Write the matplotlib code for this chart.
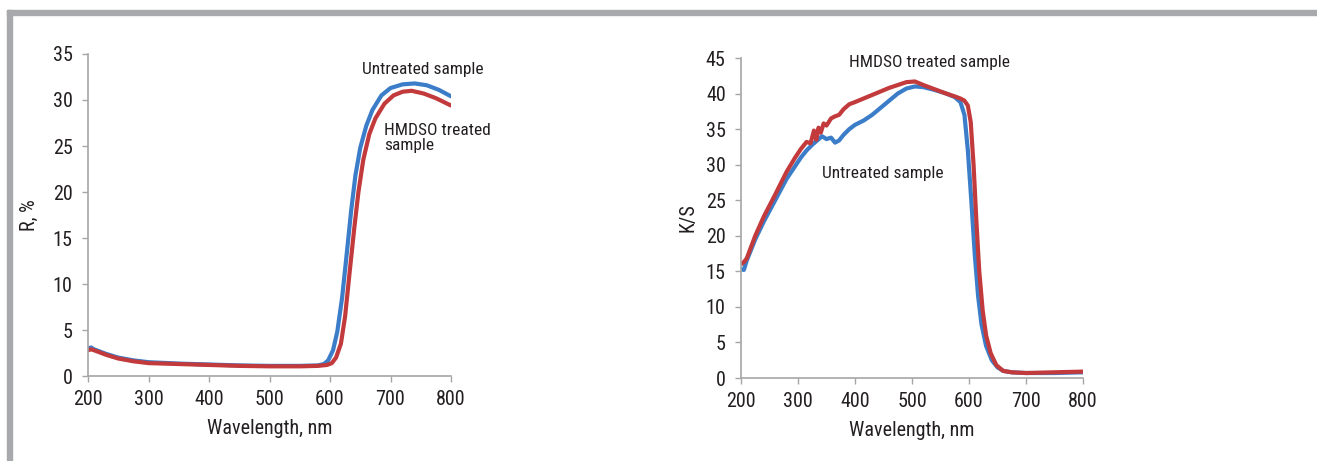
import matplotlib.pyplot as plt
from matplotlib.patches import Rectangle

plt.rcParams['font.family'] = ['Roboto Condensed', 'Liberation Sans', 'DejaVu Sans']

# reflectance, left panel
wl_r_untr = [200, 205, 210, 230, 250, 275, 300, 350, 400, 450, 500, 550, 580, 590,
             597, 605, 612, 620, 628, 635, 642, 650, 660, 670, 685, 700, 720, 740,
             760, 780, 800]
r_untr = [3.0, 3.1, 2.9, 2.4, 2.0, 1.7, 1.5, 1.35, 1.25, 1.15, 1.1, 1.1, 1.15, 1.3,
          1.7, 2.8, 4.8, 8.5, 13.5, 18.0, 21.8, 24.8, 27.2, 28.9, 30.5, 31.3, 31.7, 31.8,
          31.6, 31.1, 30.4]

wl_r_hmdso = [200, 205, 210, 230, 250, 275, 300, 350, 400, 450, 500, 550, 580, 595,
              603, 610, 618, 625, 632, 640, 647, 655, 665, 675, 690, 705, 720, 735,
              755, 775, 800]
r_hmdso = [2.8, 2.9, 2.8, 2.3, 1.9, 1.6, 1.4, 1.3, 1.2, 1.1, 1.05, 1.05, 1.1, 1.2,
           1.4, 2.0, 3.5, 6.5, 11.0, 16.0, 20.0, 23.5, 26.3, 28.0, 29.6, 30.5, 30.9, 31.0,
           30.7, 30.2, 29.4]

# K/S, right panel
wl_ks_untr = [200, 205, 210, 225, 240, 260, 280, 295, 305, 315, 325, 335, 342, 350,
              358, 365, 372, 380, 390, 400, 415, 430, 445, 460, 475, 490, 505, 520,
              540, 560, 575, 585, 592, 598, 604, 610, 616, 622, 630, 640, 650, 660,
              675, 700, 750, 800]
ks_untr = [15.3, 15.2, 16.5, 19.5, 22.0, 25.0, 28.0, 29.8, 31.0, 32.0, 32.8, 33.5, 34.0, 33.6,
           33.8, 33.1, 33.4, 34.2, 35.0, 35.6, 36.2, 37.0, 38.0, 39.0, 40.0, 40.7, 41.0, 40.9,
           40.5, 40.0, 39.5, 38.8, 37.0, 32.0, 25.0, 17.5, 11.5, 7.5, 4.5, 2.5, 1.5, 1.0,
           0.8, 0.7, 0.7, 0.8]

wl_ks_hmdso = [200, 205, 210, 225, 240, 260, 280, 295, 305, 315, 322, 328, 332, 336,
               340, 345, 350, 358, 365, 372, 380, 390, 400, 415, 430, 445, 460, 475,
               490, 505, 520, 540, 560, 575, 585, 592, 598, 603, 608, 613, 618, 624,
               630, 638, 648, 660, 675, 700, 750, 800]
ks_hmdso = [16.0, 16.3, 16.8, 20.0, 22.7, 25.8, 29.0, 31.0, 32.2, 33.2, 33.0, 34.8, 33.5, 35.2,
            34.5, 35.8, 35.5, 36.5, 36.8, 37.0, 37.8, 38.5, 38.8, 39.3, 39.8, 40.3, 40.8, 41.2,
            41.6, 41.7, 41.2, 40.6, 40.0, 39.6, 39.3, 39.0, 38.3, 36.0, 30.0, 22.0, 15.0, 9.5,
            6.0, 3.5, 1.8, 1.0, 0.8, 0.7, 0.8, 0.9]

x_ticks = [200, 300, 400, 500, 600, 700, 800]

blue = '#3b7dc8'
red = '#c23a3c'
axis_gray = '#a6a6a6'
text_col = '#231f20'

fig = plt.figure(figsize=(13.17, 4.61), dpi=100)

# grey frame on top and left edges
fig.patches.append(Rectangle((7 / 1317, 1 - 15 / 461), 1, 5 / 461,
                             transform=fig.transFigure, color='#a7a9ac', zorder=0))
fig.patches.append(Rectangle((7 / 1317, 0), 5 / 1317, 1 - 10 / 461,
                             transform=fig.transFigure, color='#a7a9ac', zorder=0))

ax1 = fig.add_axes([88 / 1317, 1 - 376 / 461, 363 / 1317, 322 / 461])
ax2 = fig.add_axes([741 / 1317, 1 - 378 / 461, 342 / 1317, 320 / 461])

ax1.plot(wl_r_untr, r_untr, color=blue, lw=3, solid_capstyle='round')
ax1.plot(wl_r_hmdso, r_hmdso, color=red, lw=3, solid_capstyle='round')
ax1.set_ylim(0, 35)
ax1.set_yticks(range(0, 36, 5))
ax1.set_ylabel('R, %', fontsize=14.5, color=text_col, labelpad=10)
ax1.text(653, 33.3, 'Untreated sample', fontsize=12.5, color=text_col, va='center')
ax1.text(689, 25.9, 'HMDSO treated\nsample', fontsize=12.5, color=text_col,
         va='center', linespacing=1.0)

ax2.plot(wl_ks_untr, ks_untr, color=blue, lw=3, solid_capstyle='round')
ax2.plot(wl_ks_hmdso, ks_hmdso, color=red, lw=3, solid_capstyle='round')
ax2.set_ylim(0, 45)
ax2.set_yticks(range(0, 46, 5))
ax2.set_ylabel('K/S', fontsize=14.5, color=text_col, labelpad=6)
ax2.text(389, 44.3, 'HMDSO treated sample', fontsize=12.5, color=text_col, va='center')
ax2.text(342, 28.7, 'Untreated sample', fontsize=12.5, color=text_col, va='center')

for ax in (ax1, ax2):
    ax.set_xlim(200, 800)
    ax.set_xticks(x_ticks)
    ax.set_xlabel('Wavelength, nm', fontsize=14.5, color=text_col, labelpad=7)
    for s in ('top', 'right'):
        ax.spines[s].set_visible(False)
    for s in ('left', 'bottom'):
        ax.spines[s].set_color(axis_gray)
        ax.spines[s].set_linewidth(1.2)
    ax.tick_params(axis='both', colors=axis_gray, labelcolor=text_col,
                   labelsize=14.5, length=4, width=1.0)
    ax.tick_params(axis='y', pad=7)
    ax.tick_params(axis='x', pad=6)
    ax.patch.set_alpha(0)

fig.savefig('out.png', dpi=100)
